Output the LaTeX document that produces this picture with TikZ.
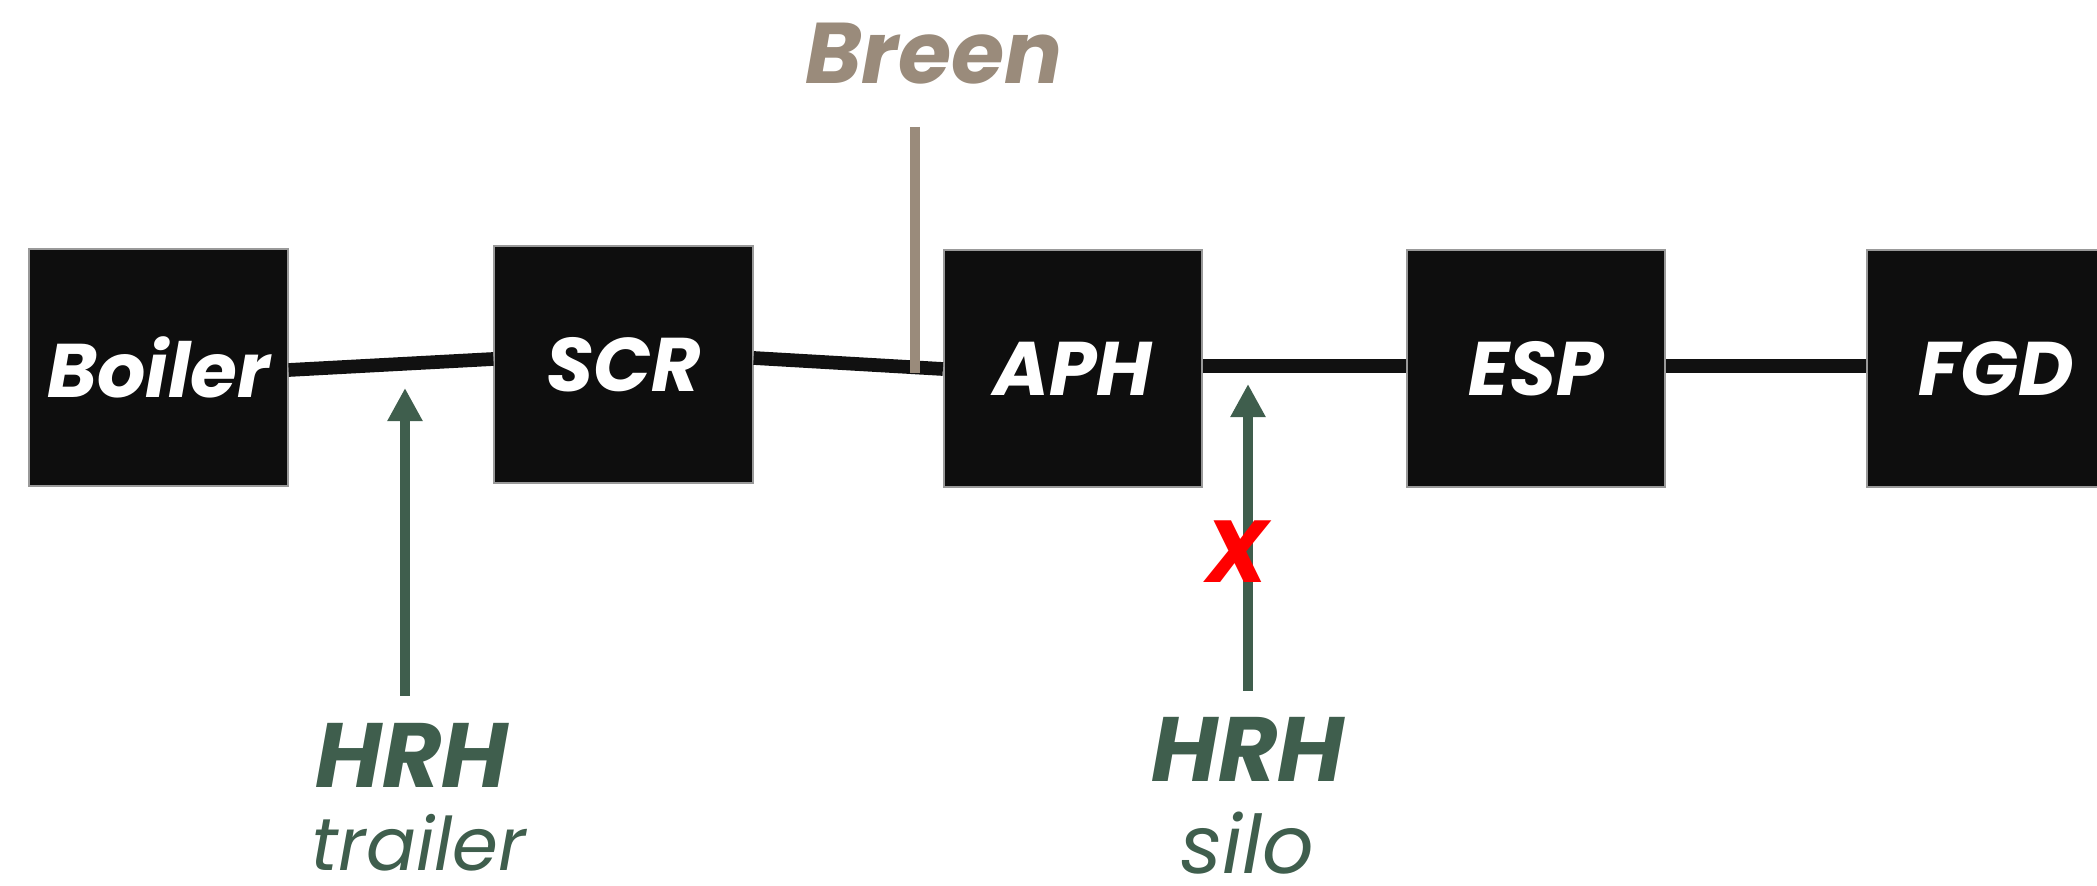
\documentclass[tikz,border=0pt]{standalone}
\usepackage{fontspec}
\setmainfont{Poppins}
\usetikzlibrary{arrows.meta}
\definecolor{boxfill}{HTML}{0E0E0E}
\definecolor{ductcol}{HTML}{111111}
\definecolor{feedgreen}{HTML}{3F5E4D}
\definecolor{taupe}{HTML}{9A8B7B}
\definecolor{xred}{HTML}{FF0000}
\begin{document}
\begin{tikzpicture}[x=0.01cm,y=-0.01cm,
  unit/.style={draw=black!40, line width=0.6pt, fill=boxfill, minimum width=2.58cm,
    minimum height=2.36cm, inner sep=0pt, text=white,
    font=\fontsize{21.6}{24}\selectfont\bfseries\itshape},
  duct/.style={draw=ductcol, line width=3.9pt},
  feed/.style={draw=feedgreen, line width=3.1pt, -{Triangle[width=0.33cm,length=0.33cm]}},
  biglabel/.style={anchor=base, inner sep=0pt, text=feedgreen,
    font=\fontsize{26}{30}\selectfont\bfseries\itshape},
  sublabel/.style={anchor=base, inner sep=0pt, text=feedgreen,
    font=\fontsize{21}{24}\selectfont\itshape},
]
\useasboundingbox (0,0) rectangle (2097,886);
\clip (0,0) rectangle (2097,886);
% units
\node[unit] (boiler) at (158.5,367.5) {Boiler};
\node[unit] (scr) at (623.5,364.5) {SCR};
\node[unit] (aph) at (1073,368.5) {APH};
\node[unit] (esp) at (1536,368.5) {ESP};
\node[unit] (fgd) at (1996,368.5) {FGD};
% ducts
\draw[duct] (boiler.east |- 0,370) -- (scr.west |- 0,359);
\draw[duct] (scr.east |- 0,358) -- (aph.west |- 0,369);
\draw[duct] (aph.east |- 0,366) -- (esp.west |- 0,366);
\draw[duct] (esp.east |- 0,366) -- (fgd.west |- 0,366);
% Breen
\node[anchor=base, inner sep=0pt, text=taupe, font=\fontsize{24.5}{28}\selectfont\bfseries\itshape] (breen) at (934,84) {Breen};
\coordinate (breentop) at (915,127);
\coordinate (breenbot) at (915,373);
\draw[draw=taupe, line width=3pt] (breentop) -- (breenbot);
% HRH trailer
\node[biglabel] (hrh1) at (412,788) {HRH};
\node[sublabel] (trailer) at (419,870) {trailer};
\coordinate (a1s) at (405,696);
\coordinate (a1e) at (405,388);
\draw[feed] (a1s) -- (a1e);
% HRH silo
\node[biglabel] (hrh2) at (1248,782) {HRH};
\node[sublabel, font=\fontsize{23}{26}\selectfont\itshape] (silo) at (1247,874) {silo};
\coordinate (a2s) at (1248,691);
\coordinate (a2e) at (1248,384);
\draw[feed] (a2s) -- (a2e);
\node[text=xred, inner sep=0pt, font=\fontsize{25}{28}\selectfont\bfseries\itshape] (xmark) at (1237,552) {X};
\end{tikzpicture}
\end{document}
